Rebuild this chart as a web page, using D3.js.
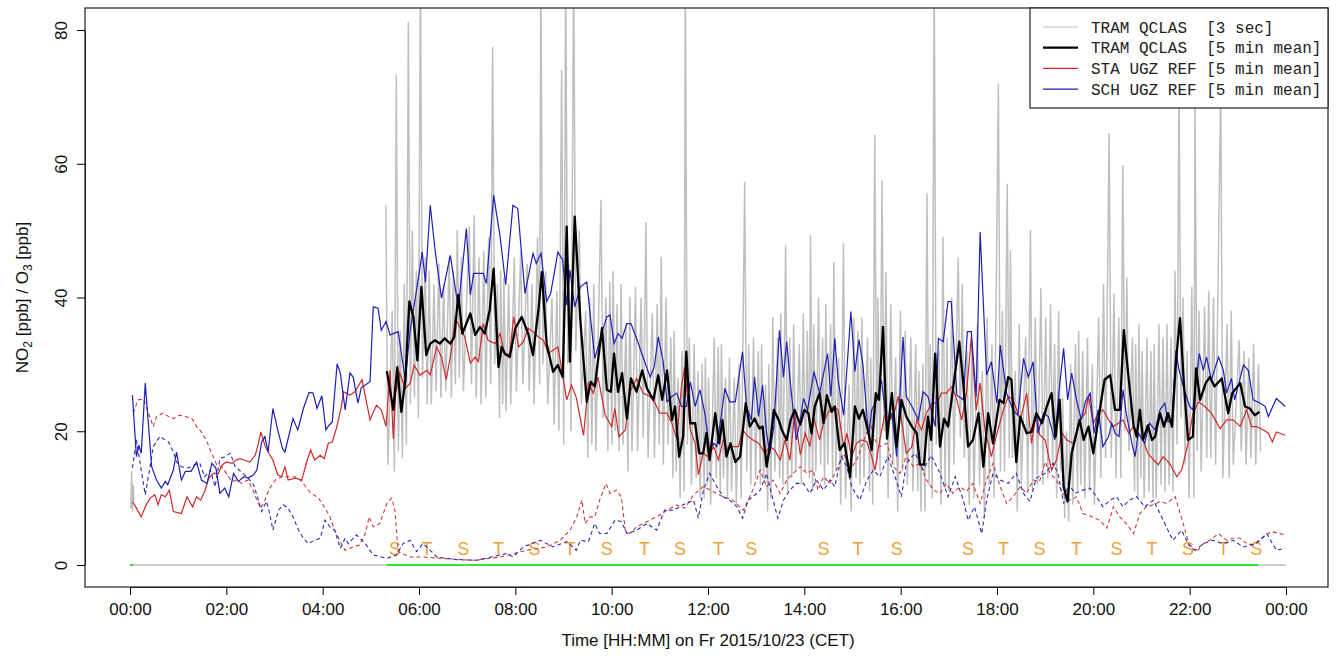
<!DOCTYPE html>
<html>
<head>
<meta charset="utf-8">
<script src="https://cdn.jsdelivr.net/npm/d3@7/dist/d3.min.js"></script>
<style>
body{margin:0;background:#fff;}
</style>
</head>
<body>
<div class="canvas"></div>
<script>
// all times are minutes after midnight, values in ppb

// TRAM QCLAS 5 min mean NO2 [min, ppb]
const tram5 = [[320,29],[328,23.2],[333,29.6],[338,22.9],[343,27.7],[348,39.4],[353,37.1],[358,30.6],[363,41.6],[369,31.4],
[374,33.1],[380,33.6],[386,33.1],[392,33.9],[399,33.1],[404,34.1],[409,40.4],[414,34.6],[424,37.6],[430,34.4],
[436,35.6],[442,34.6],[448,38.1],[453,44.3],[459,29.6],[463,32.6],[467,31.6],[473,31.1],[480,35.4],[488,37.1],
[496,34.6],[502,31.4],[509,38.4],[513,43.8],[519,33.1],[527,28.9],[533,29.9],[539,28.1],[544,50.6],[548,30.4],
[554,52.1],[561,36.6],[569,24.4],[574,27.4],[579,26.7],[588,35.4],[594,26.2],[599,25.9],[603,31.6],[608,25.9],
[613,28.7],[619,21.9],[624,27.9],[631,25.9],[638,29.1],[644,26.4],[652,24.7],[658,28.4],[663,24.7],[669,29.1],
[675,21.7],[679,23.7],[684,16.2],[689,19.2],[693,31.9],[698,21.2],[704,21.2],[709,16.7],[714,16.7],[718,19.7],
[722,15.7],[729,22.7],[734,18.2],[738,21.7],[743,16.2],[748,18.2],[754,15.4],[760,16.2],[767,24.2],[772,20.7],
[778,21.9],[784,20.4],[788,20.7],[793,14.7],[797,17.7],[802,23.2],[808,21.7],[812,20.2],[818,18.7],[823,21.7],
[828,23.2],[835,21],[840,23.2],[845,22.7],[849,19.7],[853,23.7],[859,25.7],[864,21.2],[868,25.4],[874,22.9],
[878,23.7],[884,17.2],[890,18.2],[897,13.2],[903,23.7],[908,21.9],[913,23.2],[920,19.7],[924,17.2],[929,25.7],
[933,24.7],[938,35.6],[943,18.9],[949,25.7],[955,17.7],[961,24.7],[967,22.2],[974,20.7],[980,19.7],[984,15],
[989,15],[994,22.2],[998,18.7],[1003,31.6],[1009,17.7],[1014,21.9],[1019,20.7],[1025,26.2],[1033,33.4],[1038,27.2],
[1044,17.7],[1050,18.7],[1057,22.7],[1063,14.7],[1069,22.7],[1075,18.2],[1083,24.7],[1088,24.2],[1094,28.1],[1098,27.7],
[1104,15.4],[1109,22.2],[1117,19.7],[1123,19.9],[1129,22.7],[1136,21.2],[1142,23.7],[1148,25.7],[1153,19.2],[1158,24.7],
[1163,11.7],[1168,9.5],[1173,16.7],[1179,19.7],[1183,21.7],[1188,18.7],[1194,20.7],[1200,16.7],[1208,23.2],[1214,27.7],
[1221,28.4],[1227,23.2],[1233,23.2],[1238,35.1],[1243,29.1],[1250,20.9],[1254,19.2],[1258,23.2],[1262,18.7],[1268,20.9],
[1273,18.7],[1277,19.2],[1283,22.7],[1288,20.7],[1293,22.7],[1298,20.7],[1303,30.6],[1308,36.9],[1313,26.7],[1318,18.7],
[1324,19.2],[1328,29.4],[1333,24.7],[1340,27.2],[1345,28.1],[1351,26.7],[1360,27.9],[1368,22.7],[1373,25.7],[1383,27.2],
[1389,23.7],[1395,23.4],[1401,22.4],[1407,22.9]];

// TRAM QCLAS 3 sec: low / high reached in each 5 min window [min, lo, hi]
const tram3s = [[320,15,53.8],[328,14,38],[333,17,73.3],[338,16,35],[343,18,42],[348,24,81.2],[353,25,50],[358,22,44],[363,28,90],[369,24,46],
[374,24,44],[380,26,42],[386,25,45],[392,26,42],[399,25,46],[404,27,44],[409,28,50.1],[414,26,46],[424,27,50.6],[430,25,52.3],
[436,24,46],[442,25,47],[448,27,49],[453,30,77.5],[459,22,42],[463,24,44],[467,23,43],[473,24,42],[480,26,46],[488,27,47],
[496,26,45],[502,24,42],[509,27,49],[513,30,90],[519,24,44],[527,21,40],[533,20,41],[539,18,74],[544,30,90],[548,20,45],
[554,32,90],[561,24,50],[569,16,38],[574,18,40],[579,17,42],[588,22,54.6],[594,17,40],[599,18,42.3],[603,20,44],[608,17,39],
[613,18,42],[619,14,36],[624,17,40.1],[631,17,41.6],[638,19,40],[644,16,51.3],[652,16,37.6],[658,18,39],[663,15,46.1],[669,18,40],
[675,13,34],[679,14,35],[684,10,28],[689,11,32],[693,18,90],[698,12,34],[704,13,33],[709,10,29],[714,10,30],[718,12,31],
[722,9,28],[729,13,34],[734,11,32.6],[738,13,33],[743,10,28],[748,11,31],[754,9,28],[760,10,30],[767,14,57.3],[772,12,33],
[778,13,34],[784,12,32],[788,13,33],[793,8,27],[797,10,30],[802,14,37.1],[808,13,34],[812,12,37.6],[818,11,47.8],[823,13,34],
[828,14,36],[835,12,33],[840,14,37.6],[845,13,35],[849,11,49.3],[853,14,36],[859,15,40],[864,12,34],[868,15,39],[874,13,36],
[878,14,45.3],[884,9,31],[890,10,48.1],[897,8,27],[903,13,37],[908,12,35],[913,13,37],[920,11,34],[924,9,31],[929,15,64.3],
[933,14,40],[938,20,57.5],[943,10,43.8],[949,15,39],[955,8,31],[961,14,38],[967,12,35],[974,11,34],[980,11,33],[984,8,29],
[989,8,30],[994,12,55.6],[998,10,33],[1003,18,90],[1009,9,32],[1014,12,49.1],[1019,11,34],[1025,15,40],[1033,19,46],[1038,16,42],
[1044,9,32],[1050,10,33],[1057,12,36],[1063,7,29],[1069,12,37],[1075,10,33],[1083,14,72],[1088,14,38],[1094,16,57],[1098,16,47.1],
[1104,8,29],[1109,12,36],[1117,11,34],[1123,11,50.1],[1129,12,37],[1136,12,41.4],[1142,13,37],[1148,15,39],[1153,10,33],[1158,14,38],
[1163,7,25],[1168,6.5,20],[1173,9,30],[1179,11,33],[1183,12,35],[1188,10,32],[1194,11,34],[1200,9,30],[1208,13,37],[1214,16,42],
[1221,16,64.6],[1227,13,40.6],[1233,13,37],[1238,20,59.8],[1243,17,43],[1250,11,34],[1254,10,33],[1258,13,36],[1262,10,32],[1268,11,34],
[1273,10,32],[1277,10,33],[1283,12,36],[1288,11,34],[1293,12,36],[1298,11,34],[1303,18,44],[1308,22,72],[1313,15,40],[1318,10,32],
[1324,10,41.6],[1328,17,68.8],[1333,14,38],[1340,16,38.6],[1345,16,41],[1351,15,40],[1360,13,71.8],[1368,13,36],[1373,15,38],[1383,17,33.6],
[1389,15,32],[1395,16,31],[1401,15,33.1],[1407,17,30]];

// the few 3 sec values logged right after midnight
const tram3sEarly = [[1,8.5],[2,14],[3,8],[4,12],[5,9.5]];

// STA UGZ REF 5 min mean NO2
const staNO2 = [[3,9.5],[8,8.5],[14,7.2],[19,8.7],[25,10],[31,10.5],[35,9],[39,10.5],[44,10.2],[49,11.2],[54,8],[64,7.7],[71,10.2],[78,8.7],[83,10.2],[88,9.7],[93,11],[98,13],[104,13.7],[110,13.7],
[115,15],[120,15.4],[127,15.2],[132,15.7],[137,15.9],[142,15.7],[149,15.4],[156,16.4],[160,18.2],[163,19.9],[168,17.9],[172,16.9],[178,15.7],[184,13.5],[189,13.2],[193,14.7],[197,12.7],[206,13],[214,12.7],[220,15.4],
[225,17.2],[230,15.7],[237,16.4],[242,15.9],[247,18.2],[252,18.4],[257,20.4],[263,23.5],[266,25.9],[274,25.4],[280,25.9],[289,27.7],[299,21.7],[307,23.9],[313,23.2],[319,20.7],[324,29.1],[328,18.9],[331,25.7],[336,28.7],
[343,26.4],[349,27.2],[354,29.9],[361,28.4],[370,29.1],[374,28.4],[382,32.6],[388,31.1],[394,27.7],[401,32.6],[405,36.9],[411,35.6],[417,34.1],[424,30.2],[430,31.1],[434,30.4],[440,36.1],[446,33.6],[455,33.1],[461,34.6],
[467,31.4],[473,31.6],[478,37.1],[484,32.6],[490,33.4],[496,35.4],[502,34.9],[509,34.1],[515,33.6],[521,31.6],[527,32.1],[533,32.6],[538,29.1],[544,24.7],[550,26.9],[556,25],[565,19.4],[571,27.2],[577,25.7],[583,28.1],
[592,22.4],[600,20.7],[604,23.4],[609,19.2],[617,20.2],[623,25.9],[631,27.9],[639,25.7],[648,25.2],[654,24.2],[660,22.7],[669,22.7],[675,21.2],[681,18.9],[687,26.7],[691,29.6],[698,20.2],[704,18.2],[708,13.5],[714,16.7],
[720,16.2],[727,17.7],[733,15.7],[739,18.7],[745,17.2],[751,17.7],[758,17.7],[763,20.2],[770,19.2],[776,18.7],[783,18.2],[791,16.7],[797,17.7],[803,17.2],[810,15.7],[816,18.7],[822,15.7],[828,22.7],[835,16.5],[841,19.7],
[847,17.7],[852,21.9],[859,18.7],[864,21.2],[870,22.9],[876,23.7],[882,23.2],[889,17.7],[893,19.7],[899,16.2],[905,18.2],[911,18.7],[918,18.4],[924,16.2],[928,14.2],[934,18.7],[940,22.4],[947,21.7],[953,23.2],[957,25.2],
[961,21.7],[967,16.7],[974,17.7],[980,21.7],[986,20.2],[992,22.7],[999,24.2],[1005,24.2],[1011,25.7],[1017,25.7],[1024,26.7],[1030,24.7],[1036,21.7],[1042,25.7],[1048,34.1],[1054,23.2],[1059,27.2],[1065,20.2],[1073,16.2],[1080,19.7],
[1088,23.2],[1094,25.2],[1100,24.7],[1109,21.7],[1117,25.7],[1123,18.2],[1129,22.7],[1133,19.5],[1140,18.7],[1148,14.2],[1154,15.7],[1161,19.7],[1167,18.7],[1175,18.2],[1183,21.7],[1190,22.7],[1194,25.2],[1200,21.2],[1206,22.7],[1212,23.2],
[1219,21.7],[1225,20.7],[1231,21.2],[1237,21.7],[1244,19.7],[1250,20.7],[1256,19.7],[1262,18.7],[1268,16.7],[1275,15.7],[1281,15],[1287,16.2],[1295,15.2],[1304,13.2],[1310,14.2],[1318,18.2],[1324,22.7],[1331,24.4],[1339,23.7],[1347,22.7],
[1358,20.4],[1366,21.7],[1374,21.7],[1383,20.7],[1391,23.2],[1397,20.7],[1403,20.7],[1412,20.2],[1418,19.7],[1423,18.4],[1428,19.9],[1439,19.4]];

// SCH UGZ REF 5 min mean NO2
const schNO2 = [[3,25.4],[8,16.2],[11,17.9],[14,16.7],[19,27.2],[27,14.7],[33,12.7],[39,11.5],[44,12.5],[47,12],[54,14.2],[58,16.9],[64,12.7],[69,14],[76,14],[83,15.4],[89,12.7],[96,12.2],[102,15.2],[107,14.5],
[112,10.7],[118,11.5],[123,10.2],[129,13.7],[135,12.5],[142,13.2],[147,13],[154,13.5],[158,14.2],[164,18.4],[168,19.2],[172,16.9],[178,23.4],[184,20.2],[190,17.4],[193,16.9],[203,21.9],[209,20.2],[216,23.4],[223,25.8],
[228,25.7],[233,23.4],[239,25.3],[244,20.2],[248,20.9],[252,21.4],[258,30.1],[262,28.7],[268,23.2],[274,28.7],[278,28.1],[284,24.2],[288,26.5],[299,27.4],[303,38.6],[309,38.4],[313,35.1],[319,36.4],[324,34.4],[328,34.6],
[334,34.9],[343,27.7],[349,35.1],[357,41.1],[364,46.8],[368,42.3],[374,53.8],[380,47.1],[388,39.9],[399,46.3],[409,38.4],[419,50.3],[424,40.4],[428,43.6],[440,43.6],[444,42.1],[453,55.3],[461,49.1],[468,41.9],[477,53.8],
[483,53.3],[492,40.6],[502,46.6],[506,45.1],[512,46.6],[519,39.4],[524,40.6],[533,46.8],[539,45.6],[544,38.9],[548,44.1],[554,38.6],[561,41.6],[569,42.3],[579,30.9],[590,35.6],[594,37.1],[598,37.4],[603,33.1],[608,34.6],
[613,33.9],[619,36.1],[624,36.1],[631,33.9],[639,31.1],[648,28.1],[653,29.6],[658,34.1],[664,30.6],[669,24.4],[675,25.2],[681,25.7],[687,23.7],[693,23.7],[698,27.4],[704,23.7],[710,26.2],[716,22.7],[722,17.2],[727,18.2],
[731,17.7],[737,22.7],[741,26.4],[747,24.4],[754,24.4],[763,31.9],[768,23.7],[774,21.7],[778,28.1],[783,22.2],[788,26.9],[793,19.7],[797,16.7],[802,20.7],[809,35.1],[814,28.1],[818,33.4],[823,26.7],[830,18.7],[835,21.7],
[839,24.9],[844,23.2],[852,28.9],[859,25.7],[869,31.6],[873,25.2],[878,33.9],[882,27.7],[889,22.4],[898,37.9],[903,28.9],[908,33.7],[913,29.9],[920,19.2],[924,23.2],[932,25.2],[936,27.7],[943,20.7],[949,22.7],[955,16.2],
[963,34.1],[967,25.2],[974,23.7],[982,21.7],[988,25.9],[994,25.2],[1003,20.7],[1007,33.9],[1013,33.4],[1019,39.4],[1023,39.4],[1030,25.4],[1038,24.7],[1043,34.9],[1048,34.9],[1054,25.2],[1059,49.8],[1067,28.4],[1073,30.4],[1080,24.2],
[1084,32.9],[1092,25.7],[1100,23.2],[1106,22.4],[1113,30.9],[1119,28.1],[1125,30.4],[1131,19.7],[1138,22.7],[1144,22.2],[1152,18.7],[1157,25.7],[1163,32.4],[1168,24.7],[1173,28.7],[1179,24.7],[1185,21.7],[1190,24.4],[1196,25.7],[1201,19.7],
[1206,23.2],[1212,17.7],[1219,19.2],[1223,21.2],[1227,19.7],[1232,19.2],[1237,26.2],[1241,22.7],[1248,18.2],[1252,16.2],[1256,19.7],[1264,18.2],[1270,21.2],[1277,20.2],[1283,23.2],[1289,24.2],[1293,21.4],[1298,21.7],[1303,32.1],[1306,29.6],
[1312,26.7],[1320,23.7],[1324,23.2],[1332,31.6],[1337,29.1],[1341,31.1],[1347,27.7],[1356,31.1],[1362,29.1],[1366,25.7],[1372,27.9],[1376,24.7],[1387,29.9],[1393,29.1],[1399,24.7],[1408,24.2],[1414,23.7],[1418,22.2],[1428,24.9],[1439,23.7]];

// STA UGZ REF O3 (dashed)
const staO3 = [[4,22.7],[10,24.7],[17,24.8],[23,22.7],[29,20.7],[33,22.2],[41,22.7],[48,22.2],[54,21.9],[62,22.4],[69,22.2],[77,21.9],[83,20.7],[89,19.9],[96,18.4],[101,16.9],[108,15],[114,14.7],[120,13.7],[127,12.5],
[133,12.7],[139,12.2],[147,12.7],[154,11],[158,9.7],[163,8.5],[168,9.7],[174,11.5],[181,12.7],[189,13.2],[197,13.2],[206,13.2],[214,12.5],[220,11.5],[226,10.7],[235,10],[243,8.5],[249,7.2],[255,5.2],[262,3.5],
[268,2.2],[278,2.7],[286,3],[293,4.7],[298,7.2],[303,5.7],[311,6.2],[320,9.2],[326,10],[330,8.2],[334,2],[349,1.2],[365,1.2],[386,1],[428,0.7],[461,1.2],[494,2.2],[519,2.7],[536,3.7],[548,5.2],
[556,7],[563,9.7],[567,6.2],[573,7.2],[579,7.2],[585,9.7],[593,12.2],[598,10.7],[606,11.2],[612,10.2],[617,5.2],[623,4.7],[631,5.7],[644,6.5],[656,7.2],[669,8.2],[681,9],[691,8.5],[702,10.5],[714,11.7],
[726,11],[739,10.2],[751,9.7],[764,8.2],[774,10.7],[785,14.2],[793,11.7],[801,12.7],[810,10.7],[818,12.7],[826,13.7],[835,14.7],[843,13.7],[851,14.2],[857,11.2],[864,13.2],[872,12.2],[880,14.2],[889,16.7],[897,14.2],
[905,15.7],[913,18.2],[922,21.2],[928,18.7],[934,17.7],[943,18.2],[951,14.7],[959,13.7],[967,16.2],[976,14.7],[984,15.2],[992,12.7],[1001,11.2],[1009,10.7],[1017,12.2],[1025,10.7],[1034,11.7],[1042,11],[1050,12.2],[1059,9.2],
[1067,12.7],[1075,15.2],[1084,11.7],[1092,9.2],[1100,10.2],[1109,11.7],[1117,10.7],[1125,12.7],[1133,12.5],[1140,15.4],[1146,13.7],[1154,12.7],[1162,10.7],[1171,9.7],[1179,10.2],[1187,7.7],[1198,7.2],[1208,6.7],[1217,5.5],[1225,8.7],
[1233,7.2],[1241,6.2],[1250,4.7],[1258,7.7],[1266,8.7],[1275,9],[1283,9.5],[1291,9.2],[1302,10.2],[1312,6.2],[1320,2.7],[1329,2],[1337,3.2],[1345,3.7],[1356,4.7],[1366,3.7],[1374,4],[1383,4],[1391,3.2],[1399,3],
[1412,4.2],[1422,5],[1432,4.7],[1439,4.5]];

// SCH UGZ REF O3 (dashed)
const schO3 = [[3,14.5],[8,18.7],[12,15.7],[19,10.5],[25,14.7],[29,17.7],[37,19.2],[48,18.4],[54,16.9],[58,15.4],[64,14.7],[73,14.5],[81,15],[87,15.2],[93,13.2],[100,14.2],[106,11.7],[112,15.9],[118,16.2],[125,16.7],
[131,14.7],[139,13.9],[147,13],[154,12],[160,9.7],[164,8],[170,9.5],[174,7.7],[178,5.2],[185,8.2],[191,9],[197,8.5],[203,7.2],[210,5.2],[216,4],[222,3.2],[230,3.7],[237,4],[243,6.7],[249,5.7],
[255,5.2],[262,2.5],[268,4],[272,3.2],[282,4.5],[293,3.2],[303,1.5],[320,1],[332,1.5],[340,3.2],[349,3.7],[357,2],[365,3.2],[374,2.2],[382,1.2],[407,0.8],[432,0.7],[469,1.7],[477,1.2],[490,2.7],
[511,3.7],[527,2.7],[544,3.5],[556,2.2],[561,3.7],[571,3.5],[579,6.2],[585,4.7],[594,4.7],[604,6.7],[612,6.5],[619,4.7],[631,5.2],[644,6.2],[656,5.2],[666,8.2],[677,8.2],[689,9],[702,9.7],[708,7],
[714,11],[722,13.7],[731,11.7],[739,10.2],[747,9.7],[756,8.7],[763,7],[770,9.7],[776,10.2],[785,11.2],[793,13.7],[799,10.7],[807,7],[814,9.7],[822,11.2],[830,12.2],[839,12.2],[847,10.7],[855,12.7],[864,11.2],
[872,12.7],[878,11.7],[886,16.2],[893,14.7],[899,11.7],[909,9.7],[918,12.7],[926,14.2],[934,13.2],[944,16.2],[953,13.2],[961,10.2],[967,15.2],[978,16.7],[988,14.2],[998,16.4],[1009,13.7],[1019,10.2],[1028,13.2],[1038,9.7],
[1044,6.7],[1052,8.7],[1061,4.7],[1067,9.7],[1075,13.7],[1084,12.7],[1094,12.2],[1104,13.7],[1113,10.7],[1121,9.5],[1129,13],[1140,13.7],[1150,15.2],[1156,13.7],[1163,9.2],[1169,12.2],[1177,10.7],[1187,11.2],[1196,11.5],[1204,10.2],
[1212,8.7],[1221,9.7],[1229,10.2],[1237,8.7],[1245,9.7],[1254,10.2],[1264,8.7],[1275,9.7],[1283,7.7],[1291,5.7],[1299,3.7],[1310,5.2],[1318,3.2],[1327,2.2],[1337,3.2],[1349,3.7],[1362,3.2],[1374,3.7],[1387,2.7],[1403,3.2],
[1416,4.7],[1428,2.2],[1439,2.5]];

// periods with tram measurement running (green on zero line)
const tramRuns = [[0,4],[320,1405]];

// stop markers S / T
const stopTimes = [330,370,415,459,504,548,594,641,685,733,774,864,907,955,1044,1088,1133,1179,1229,1273,1318,1362,1403];
const stopLabels = ['S','T','S','T','S','T','S','T','S','T','S','S','T','S','S','T','S','T','S','T','S','T','S'];

const xTicks = [0,120,240,360,480,600,720,840,960,1080,1200,1320,1440];
const xTickLabels = ['00:00','02:00','04:00','06:00','08:00','10:00','12:00','14:00','16:00','18:00','20:00','22:00','00:00'];
const yTicks = [0,20,40,60,80];

const legendItems = ['TRAM QCLAS  [3 sec]','TRAM QCLAS  [5 min mean]','STA UGZ REF [5 min mean]','SCH UGZ REF [5 min mean]'];

const dims = {width:1338, height:658};
const box = {left:85, top:8, right:1328, bottom:587};

const svg = d3.select('.canvas')
  .append('svg')
  .attr('width', dims.width)
  .attr('height', dims.height)
  .style('font-family', '"Liberation Sans", Arial, sans-serif');

const x = d3.scaleLinear().domain([0,1440]).range([130,1286]);
const y = d3.scaleLinear().domain([0,80]).range([565,30]);

svg.append('clipPath').attr('id','plotclip')
  .append('rect')
  .attr('x', box.left).attr('y', box.top)
  .attr('width', box.right-box.left).attr('height', box.bottom-box.top);

const plot = svg.append('g').attr('clip-path','url(#plotclip)');

const line = d3.line().x(d=>x(d[0])).y(d=>y(d[1]));

// zero line and green run markers
plot.append('line')
  .attr('x1', x(0)).attr('x2', x(1440))
  .attr('y1', y(0)).attr('y2', y(0))
  .attr('stroke', '#9a9a9a').attr('stroke-width', 1.2);

plot.selectAll('.run')
  .data(tramRuns)
  .enter().append('line')
  .attr('class','run')
  .attr('x1', d=>x(d[0])).attr('x2', d=>x(d[1]))
  .attr('y1', y(0)).attr('y2', y(0))
  .attr('stroke', '#3ddc3d').attr('stroke-width', 2);

// 3 sec data drawn as a zig-zag between each window's low and high
const grayPts = [];
tram3s.forEach(d=>{
  grayPts.push([d[0]-1.3, d[2]]);
  grayPts.push([d[0]+1.3, d[1]]);
});

plot.append('path')
  .datum(tram3sEarly)
  .attr('d', line)
  .attr('fill','none').attr('stroke','#bdbdbd').attr('stroke-width',1.4);

plot.append('path')
  .datum(grayPts)
  .attr('d', line)
  .attr('fill','none').attr('stroke','#bfbfbf').attr('stroke-width',1.5);

// S / T labels
plot.selectAll('.stop')
  .data(stopTimes)
  .enter().append('text')
  .attr('class','stop')
  .attr('x', d=>x(d))
  .attr('y', y(0)-10)
  .attr('text-anchor','middle')
  .attr('font-size', 18)
  .attr('fill', '#eba23a')
  .text((d,i)=>stopLabels[i]);

// O3 dashed
plot.append('path')
  .datum(staO3)
  .attr('d', line)
  .attr('fill','none').attr('stroke','#d03a3a').attr('stroke-width',1.1)
  .attr('stroke-dasharray','4,3');

plot.append('path')
  .datum(schO3)
  .attr('d', line)
  .attr('fill','none').attr('stroke','#2a2ab8').attr('stroke-width',1.1)
  .attr('stroke-dasharray','4,3');

// NO2 reference stations
plot.append('path')
  .datum(staNO2)
  .attr('d', line)
  .attr('fill','none').attr('stroke','#d02828').attr('stroke-width',1.2);

plot.append('path')
  .datum(schNO2)
  .attr('d', line)
  .attr('fill','none').attr('stroke','#1f1fb4').attr('stroke-width',1.2);

// tram 5 min mean
plot.append('path')
  .datum(tram5)
  .attr('d', line)
  .attr('fill','none').attr('stroke','#000').attr('stroke-width',2.3)
  .attr('stroke-linejoin','round');

// box
svg.append('rect')
  .attr('x', box.left).attr('y', box.top)
  .attr('width', box.right-box.left).attr('height', box.bottom-box.top)
  .attr('fill','none').attr('stroke','#222').attr('stroke-width',1.2);

// axes
const xAxis = d3.axisBottom(x)
  .tickValues(xTicks)
  .tickFormat((d,i)=>xTickLabels[i])
  .tickSize(8).tickSizeOuter(0).tickPadding(8);

const xg = svg.append('g')
  .attr('transform', `translate(0,${box.bottom})`)
  .call(xAxis);
xg.select('.domain').attr('stroke','#222');
xg.selectAll('text').attr('font-size',17).attr('fill','#111')
  .style('font-family','"Liberation Sans", Arial, sans-serif');

const yAxis = d3.axisLeft(y)
  .tickValues(yTicks)
  .tickSize(8).tickSizeOuter(0);

const yg = svg.append('g')
  .attr('transform', `translate(${box.left},0)`)
  .call(yAxis);
yg.select('.domain').attr('stroke','#222');
yg.selectAll('text')
  .attr('x', 0).attr('y', -18).attr('dy', 0)
  .attr('transform','rotate(-90)')
  .attr('text-anchor','middle')
  .attr('font-size',17).attr('fill','#111')
  .style('font-family','"Liberation Sans", Arial, sans-serif');

// axis titles
svg.append('text')
  .attr('x', (x(0)+x(1440))/2)
  .attr('y', 646)
  .attr('text-anchor','middle')
  .attr('font-size',17).attr('fill','#111')
  .text('Time [HH:MM] on Fr 2015/10/23 (CET)');

const yl = svg.append('text')
  .attr('transform', `translate(28,${(box.top+box.bottom)/2}) rotate(-90)`)
  .attr('text-anchor','middle')
  .attr('font-size',17).attr('fill','#111');
yl.append('tspan').text('NO');
yl.append('tspan').attr('font-size',12).attr('dy',4).text('2');
yl.append('tspan').attr('dy',-4).text(' [ppb] / O');
yl.append('tspan').attr('font-size',12).attr('dy',4).text('3');
yl.append('tspan').attr('dy',-4).text(' [ppb]');

// legend
const legendGroup = svg.append('g');
legendGroup.append('rect')
  .attr('x',1030).attr('y',box.top)
  .attr('width', box.right-1030).attr('height',100)
  .attr('fill','#fff').attr('stroke','#222').attr('stroke-width',1.2);

const legendStyles = [
  {stroke:'#bdbdbd', w:1.2},
  {stroke:'#000', w:2.3},
  {stroke:'#d02828', w:1.2},
  {stroke:'#1f1fb4', w:1.2}
];

const rows = legendGroup.selectAll('.row')
  .data(legendItems)
  .enter().append('g')
  .attr('class','row')
  .attr('transform',(d,i)=>`translate(0,${27+i*20.7})`);

rows.append('line')
  .attr('x1',1043).attr('x2',1078)
  .attr('stroke',(d,i)=>legendStyles[i].stroke)
  .attr('stroke-width',(d,i)=>legendStyles[i].w);

rows.append('text')
  .attr('x',1091).attr('dy','0.35em')
  .attr('font-size',16).attr('fill','#222')
  .style('font-family','"Liberation Mono", "Courier New", monospace')
  .style('white-space','pre')
  .text(d=>d);
</script>
</body>
</html>
